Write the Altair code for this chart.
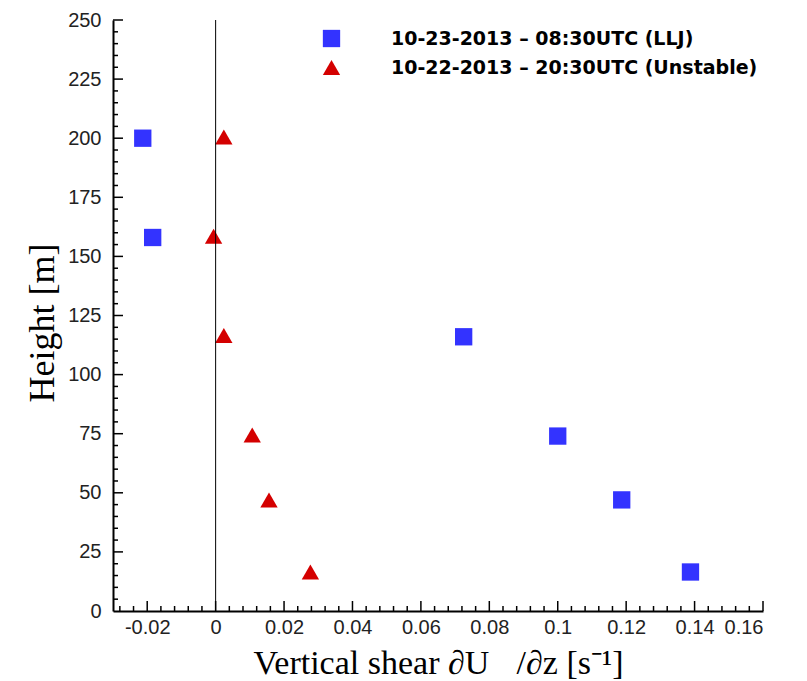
import altair as alt
import pandas as pd

# ---- data ----
series_llj = "10-23-2013 \u2013 08:30UTC (LLJ)"
series_uns = "10-22-2013 \u2013 20:30UTC (Unstable)"

llj_shear = [-0.0213, -0.0184, 0.0725, 0.1000, 0.1187, 0.1388]
llj_height = [200, 158, 116, 74, 47, 16.5]

uns_shear = [0.0024, -0.0006, 0.0024, 0.0107, 0.0156, 0.0277]
uns_height = [200.5, 158.5, 116.5, 74.5, 47, 16.5]

x_labels = [-0.02, 0, 0.02, 0.04, 0.06, 0.08, 0.1, 0.12, 0.14, 0.16]
y_labels = [0, 25, 50, 75, 100, 125, 150, 175, 200, 225, 250]

x_major_ticks = x_labels
x_minor_ticks = [round(-0.028 + 0.004 * i, 3) for i in range(47)]
x_minor_ticks = [v for v in x_minor_ticks if all(abs(v - m) > 1e-6 for m in x_major_ticks)]
y_major_ticks = [25, 50, 75, 100, 125, 150, 175, 200, 225, 250]
y_minor_ticks = [v for v in range(5, 251, 5) if v % 25 != 0]

W, H = 650, 591

df = pd.DataFrame({
    "shear": llj_shear + uns_shear,
    "height": llj_height + uns_height,
    "series": [series_llj] * len(llj_shear) + [series_uns] * len(uns_shear),
})

xscale = alt.Scale(domain=[-0.03, 0.16], nice=False, zero=False)
yscale = alt.Scale(domain=[0, 250], nice=False, zero=False)

xaxis = alt.Axis(
    values=x_labels, ticks=False, tickSize=0, grid=False,
    labelExpr="'' + datum.value",
    labelFont="Liberation Sans", labelFontSize=20, labelColor="#222",
    labelPadding=6, domainColor="black", domainWidth=2,
    title="Vertical shear \u2202U\u2009\u2009\u2009\u2009/\u2202z [s\u207b\u00b9]",
    titleFont="Liberation Serif", titleFontSize=34, titleFontWeight="normal",
    titleColor="black", titleBaseline="alphabetic", titleY=62,
)
yaxis = alt.Axis(
    values=y_labels, ticks=False, tickSize=0, grid=False,
    labelFont="Liberation Sans", labelFontSize=20, labelColor="#222",
    labelPadding=12, domainColor="black", domainWidth=2,
    title="Height [m]",
    titleFont="Liberation Serif", titleFontSize=36, titleFontWeight="normal",
    titleColor="black", titleBaseline="middle", titleX=-71, titleY=H / 2 + 7,
    titleAngle=270,
)

legend = alt.Legend(
    title=None, orient="none", legendX=209, legendY=9,
    labelFont="DejaVu Sans", labelFontWeight="bold", labelFontSize=19,
    labelColor="black", labelOffset=50, rowPadding=9, padding=0, labelLimit=0,
    symbolSize=300, symbolStrokeWidth=0, symbolOpacity=1,
)

points = alt.Chart(df).mark_point(filled=True, opacity=1, size=300, strokeWidth=0).encode(
    x=alt.X("shear:Q", scale=xscale, axis=xaxis),
    y=alt.Y("height:Q", scale=yscale, axis=yaxis),
    color=alt.Color("series:N", scale=alt.Scale(domain=[series_llj, series_uns],
                                                range=["#3333ff", "#d40000"]),
                    legend=legend),
    shape=alt.Shape("series:N", scale=alt.Scale(domain=[series_llj, series_uns],
                                                range=["square", "triangle-up"]),
                    legend=legend),
)


def xticks(vals, length):
    return alt.Chart(pd.DataFrame({"shear": vals})).mark_rule(color="black", strokeWidth=1.5).encode(
        x=alt.X("shear:Q", scale=xscale, axis=xaxis),
        y=alt.value(H), y2=alt.value(H - length),
    )


def yticks(vals, length):
    return alt.Chart(pd.DataFrame({"height": vals})).mark_rule(color="black", strokeWidth=1.5).encode(
        y=alt.Y("height:Q", scale=yscale, axis=yaxis),
        x=alt.value(0), x2=alt.value(length),
    )


zero_line = alt.Chart(pd.DataFrame({"shear": [0]})).mark_rule(color="black", strokeWidth=1).encode(
    x=alt.X("shear:Q", scale=xscale, axis=xaxis),
)

chart = alt.layer(
    points,
    xticks(x_minor_ticks, 5), xticks(x_major_ticks, 10),
    yticks(y_minor_ticks, 5), yticks(y_major_ticks, 10),
    zero_line,
).properties(
    width=W, height=H,
    background="white",
    autosize=alt.AutoSizeParams(type="none"),
    padding={"left": 113, "top": 20, "right": 44, "bottom": 70},
).configure_view(strokeWidth=0)

chart.save("out.html", embed_options={"renderer": "svg", "actions": False})
